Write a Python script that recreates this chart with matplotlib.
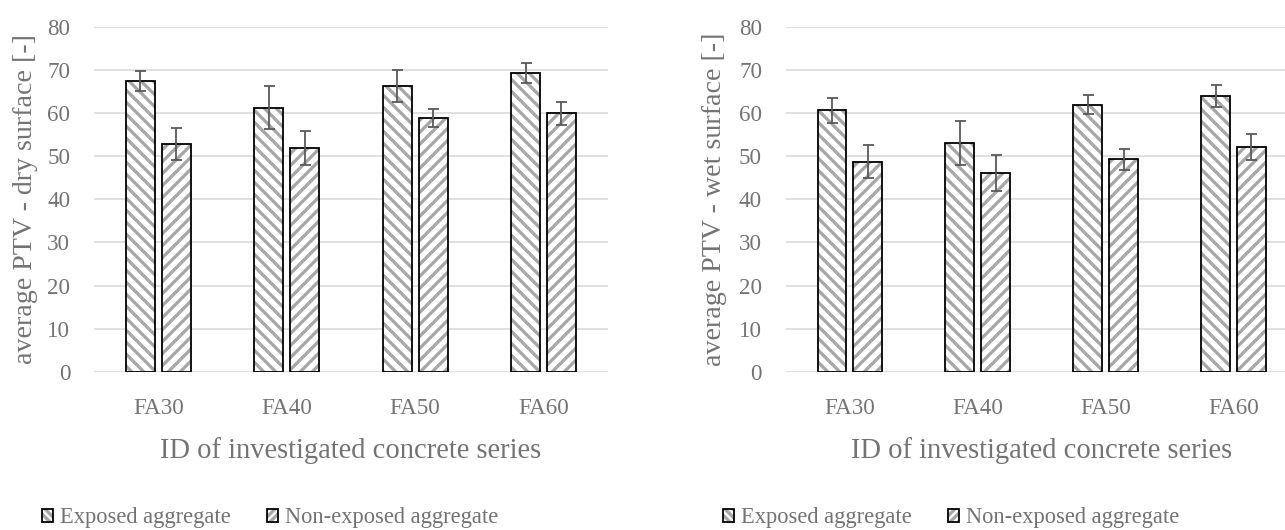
import numpy as np
import matplotlib
matplotlib.use("Agg")
import matplotlib.pyplot as plt
from matplotlib.patches import Patch
from matplotlib.legend_handler import HandlerTuple

# values
categories = ["FA30", "FA40", "FA50", "FA60"]
dry_exposed = [67.5, 61.3, 66.3, 69.3]
dry_exposed_err = [2.4, 4.9, 3.8, 2.4]
dry_non = [52.8, 51.9, 58.9, 60.0]
dry_non_err = [3.7, 4.0, 2.1, 2.7]
wet_exposed = [60.7, 53.0, 62.0, 64.0]
wet_exposed_err = [2.9, 5.1, 2.3, 2.6]
wet_non = [48.7, 46.1, 49.3, 52.2]
wet_non_err = [3.8, 4.2, 2.4, 3.0]
series_names = ["Exposed aggregate", "Non-exposed aggregate"]

TEXT = "#737373"
GRID = "#d9d9d9"
HATCH = "#a6a6a6"
ERR = "#595959"

plt.rcParams["font.family"] = ["Liberation Serif", "DejaVu Serif"]
plt.rcParams["hatch.linewidth"] = 3.2
plt.rcParams["hatch.color"] = HATCH

W, H = 1285, 530
fig = plt.figure(figsize=(W / 72, H / 72), dpi=72)


def panel(rect, exposed, exposed_err, non, non_err, ylabel, label_x):
    ax = fig.add_axes(rect)
    x = np.arange(len(categories))
    bw = 0.226
    off = 0.14
    for vals, errs, sign, hatch in [(exposed, exposed_err, -1, "\\\\"),
                                    (non, non_err, 1, "//")]:
        pos = x + sign * off
        ax.bar(pos, vals, bw, color="white", edgecolor=HATCH, hatch=hatch,
               linewidth=0, zorder=2)
        ax.bar(pos, vals, bw, fill=False, edgecolor="black", linewidth=1.8,
               zorder=3)
        ax.errorbar(pos, vals, yerr=errs, fmt="none", ecolor=ERR,
                    elinewidth=1.8, capsize=5.5, capthick=1.8, zorder=4)
    ax.set_xlim(-0.5, len(categories) - 0.5)
    ax.set_ylim(0, 80)
    ax.set_yticks(np.arange(0, 81, 10))
    ax.set_xticks(x)
    ax.set_xticklabels(categories)
    ax.yaxis.grid(True, color=GRID, linewidth=1.6)
    ax.set_axisbelow(True)
    for s in ax.spines.values():
        s.set_visible(False)
    ax.tick_params(axis="both", length=0, labelcolor=TEXT, labelsize=23)
    ax.tick_params(axis="x", pad=26)
    ax.tick_params(axis="y", pad=24)
    ax.set_ylabel(ylabel, color=TEXT, fontsize=28)
    ax.yaxis.set_label_coords(label_x, 0.5)
    ax.set_xlabel("ID of investigated concrete series", color=TEXT, fontsize=28.5)
    ax.xaxis.set_label_coords(0.5, -0.19)
    return ax


bottom = 1 - 371.7 / H
height = (371.7 - 27) / H
ax1 = panel([94.2 / W, bottom, 513.5 / W, height], dry_exposed, dry_exposed_err,
            dry_non, dry_non_err, "average PTV - dry surface [-]", -0.109)
ax2 = panel([786 / W, bottom, 511.5 / W, height], wet_exposed, wet_exposed_err,
            wet_non, wet_non_err, "average PTV - wet surface [-]", -0.115)


def handles():
    out = []
    for hatch in ["\\\\\\", "///"]:
        fillp = Patch(facecolor="white", edgecolor=HATCH, hatch=hatch, linewidth=0)
        edge = Patch(fill=False, edgecolor="black", linewidth=1.8)
        out.append((fillp, edge))
    return out


for x0 in [42 / W, 723 / W]:
    fig.legend(handles(), series_names, loc="center left",
               bbox_to_anchor=(x0, 1 - 518 / H), ncol=2, frameon=False,
               fontsize=22.5, labelcolor=TEXT, handlelength=0.5,
               handleheight=0.5, handletextpad=0.3, columnspacing=1.6,
               borderpad=0, borderaxespad=0,
               handler_map={tuple: HandlerTuple(ndivide=1)})

fig.savefig("out.png", dpi=72)
